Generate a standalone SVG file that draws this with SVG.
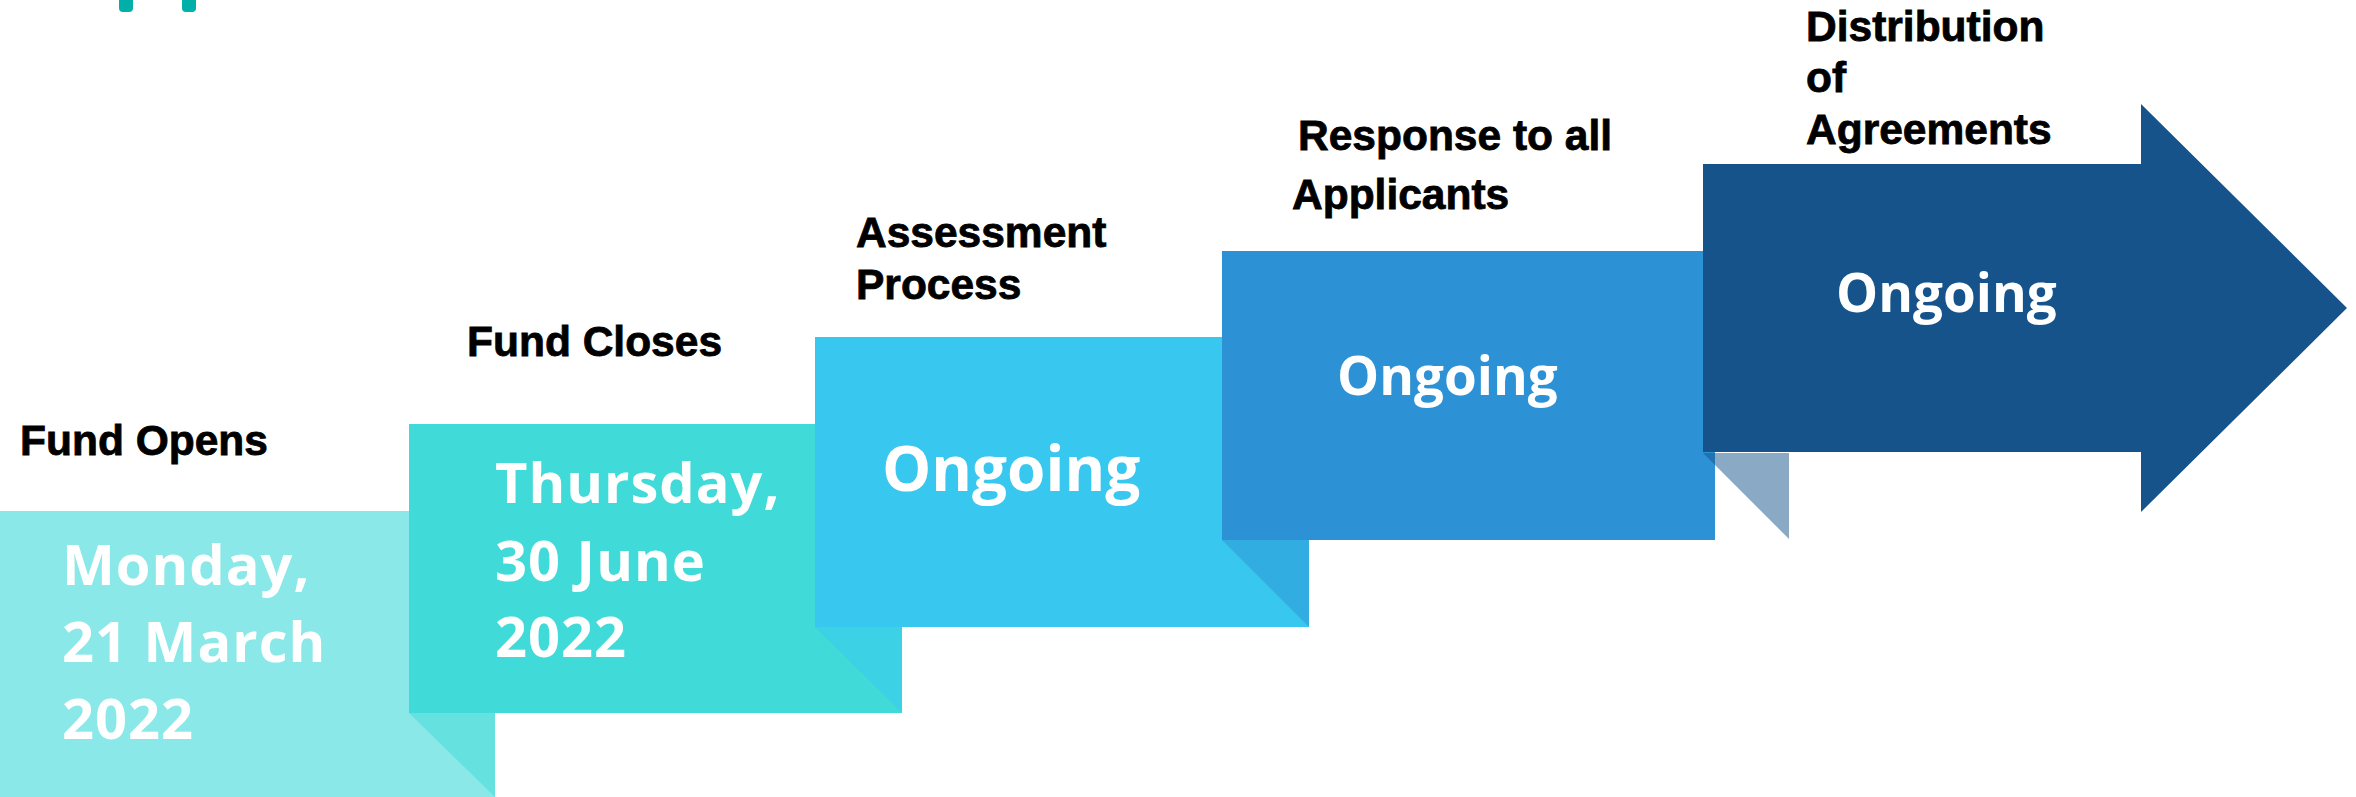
<svg xmlns="http://www.w3.org/2000/svg" width="2356" height="797" viewBox="0 0 2356 797">
<style>
.hd{font-family:"Liberation Sans",Arial,sans-serif;font-weight:bold;fill:#000;stroke:#000;stroke-width:0.8px;font-size:42.5px}
.wt{font-family:"Open Sans","Noto Sans",sans-serif;font-weight:bold;fill:#fff}
.dt{font-size:56px;letter-spacing:1px}
</style>
<rect width="2356" height="797" fill="#fff"/>
<g id="logo-fragment" fill="#00B0A8">
<rect x="119" y="-10" width="14" height="22" rx="4"/>
<rect x="182" y="-10" width="14" height="22" rx="4"/>
</g>
<g id="step1">
<rect x="0" y="511" width="495" height="290" fill="#8AE8E8"/>
<polygon points="409,713 495,713 495,797" fill="#40DAD8" fill-opacity="0.5"/>
<text class="hd" x="20" y="455" font-size="43.5">Fund Opens</text>
<text class="wt dt" x="62" y="585">Monday,</text>
<text class="wt dt" x="62" y="662" letter-spacing="2">21 March</text>
<text class="wt dt" x="62" y="739">2022</text>
</g>
<g id="step2">
<rect x="409" y="424" width="493" height="289" fill="#40DAD8"/>
<polygon points="815,627 902,627 902,713" fill="#38C8EF" fill-opacity="0.5"/>
<text class="hd" x="467" y="356">Fund Closes</text>
<text class="wt dt" x="495" y="503" letter-spacing="0.5">Thursday,</text>
<text class="wt dt" x="495" y="581">30 June</text>
<text class="wt dt" x="495" y="657">2022</text>
</g>
<g id="step3">
<rect x="815" y="337" width="494" height="290" fill="#38C8EF"/>
<polygon points="1222,540 1309,540 1309,627" fill="#2C91D5" fill-opacity="0.5"/>
<text class="hd" x="856" y="247" font-size="43">Assessment</text>
<text class="hd" x="856" y="299" font-size="43">Process</text>
<text class="wt" x="882" y="491" font-size="62">Ongoing</text>
</g>
<g id="step4">
<rect x="1222" y="251" width="493" height="289" fill="#2C91D5"/>
<polygon points="1703,453 1789,453 1789,539" fill="#15538A" fill-opacity="0.5"/>
<text class="hd" x="1298" y="150" font-size="46">Response to all</text>
<text class="hd" x="1292" y="209" font-size="46">Applicants</text>
<text class="wt" x="1337" y="395" font-size="53">Ongoing</text>
</g>
<g id="step5">
<polygon points="1703,164 2141,164 2141,104 2347,308 2141,512 2141,452 1703,452" fill="#15538A"/>
<text class="hd" x="1806" y="41" font-size="46.5">Distribution</text>
<text class="hd" x="1806" y="92" font-size="46.5">of</text>
<text class="hd" x="1806" y="144" font-size="46.5">Agreements</text>
<text class="wt" x="1836" y="312" font-size="53">Ongoing</text>
</g>
<g id="connectors"/>
</svg>
